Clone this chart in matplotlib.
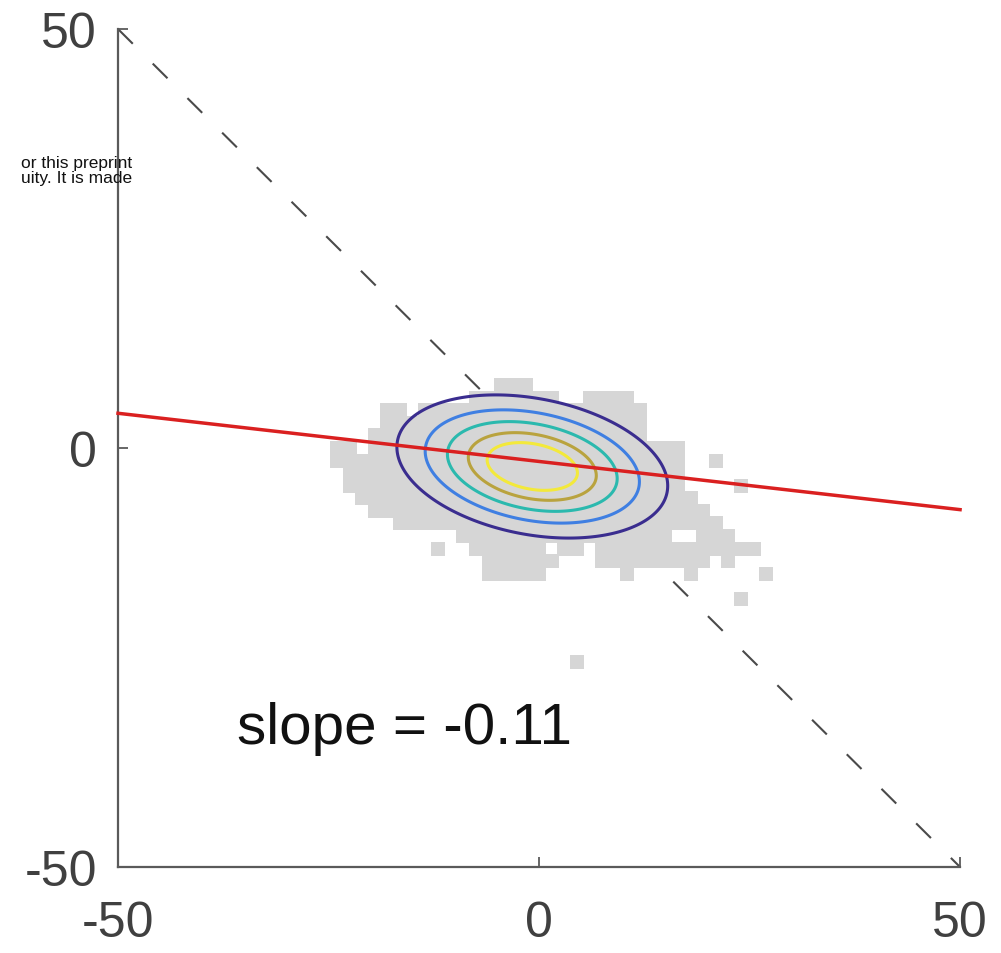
import numpy as np
import matplotlib.pyplot as plt

plt.rcParams['font.family'] = ['Liberation Sans', 'DejaVu Sans']
plt.rcParams['axes.unicode_minus'] = False

# gray point cloud: one y value per row, with the x values found on that row
row_y = [7.5, 6, 4.5, 3, 1.5, 0, -1.5, -3, -4.5, -6, -7.5, -9, -10.5, -12, -13.5, -15, -18, -25.5]
row_x = [
    [-4.5, -3, -1.5],
    [-7.5, -6, -4.5, -3, -1.5, 0, 1.5, 6, 7.5, 9, 10.5],
    [-18, -16.5, -13.5, -12, -10.5, -9, -7.5, -6, -4.5, -3, -1.5, 0, 1.5, 3, 4.5, 6, 7.5, 9, 10.5, 12],
    [-18, -16.5, -15, -13.5, -12, -10.5, -9, -7.5, -6, -4.5, -3, -1.5, 0, 1.5, 3, 4.5, 6, 7.5, 9, 10.5, 12],
    [-19.5, -18, -16.5, -15, -13.5, -12, -10.5, -9, -7.5, -6, -4.5, -3, -1.5, 0, 1.5, 3, 4.5, 6, 7.5, 9,
     10.5, 12],
    [-24, -22.5, -19.5, -18, -16.5, -15, -13.5, -12, -10.5, -9, -7.5, -6, -4.5, -3, -1.5, 0, 1.5, 3, 4.5,
     6, 7.5, 9, 10.5, 12, 13.5, 15, 16.5],
    [-24, -22.5, -21, -19.5, -18, -16.5, -15, -13.5, -12, -10.5, -9, -7.5, -6, -4.5, -3, -1.5, 0, 1.5, 3,
     4.5, 6, 7.5, 9, 10.5, 12, 13.5, 15, 16.5, 21],
    [-22.5, -21, -19.5, -18, -16.5, -15, -13.5, -12, -10.5, -9, -7.5, -6, -4.5, -3, -1.5, 0, 1.5, 3, 4.5,
     6, 7.5, 9, 10.5, 12, 13.5, 15, 16.5],
    [-22.5, -21, -19.5, -18, -16.5, -15, -13.5, -12, -10.5, -9, -7.5, -6, -4.5, -3, -1.5, 0, 1.5, 3, 4.5,
     6, 7.5, 9, 10.5, 12, 13.5, 15, 16.5, 24],
    [-21, -19.5, -18, -16.5, -15, -13.5, -12, -10.5, -9, -7.5, -6, -4.5, -3, -1.5, 0, 1.5, 3, 4.5, 6, 7.5,
     9, 10.5, 12, 13.5, 15, 16.5, 18],
    [-19.5, -18, -16.5, -15, -13.5, -12, -10.5, -9, -7.5, -6, -4.5, -3, -1.5, 0, 1.5, 3, 4.5, 6, 7.5, 9,
     10.5, 12, 13.5, 15, 16.5, 18, 19.5],
    [-16.5, -15, -13.5, -12, -10.5, -9, -7.5, -6, -4.5, -3, -1.5, 0, 1.5, 3, 4.5, 6, 7.5, 9, 10.5, 12,
     13.5, 15, 16.5, 18, 19.5, 21],
    [-9, -7.5, -6, -4.5, -3, -1.5, 0, 1.5, 3, 4.5, 6, 7.5, 9, 10.5, 12, 13.5, 15, 19.5, 21, 22.5],
    [-12, -7.5, -6, -4.5, -3, -1.5, 0, 3, 4.5, 7.5, 9, 10.5, 12, 13.5, 15, 16.5, 18, 19.5, 21, 22.5, 24,
     25.5],
    [-6, -4.5, -3, -1.5, 0, 1.5, 7.5, 9, 10.5, 12, 13.5, 15, 16.5, 18, 19.5, 22.5],
    [-6, -4.5, -3, -1.5, 0, 10.5, 18, 27],
    [24],
    [4.5],
]

# fitted gaussian (mean, spread, correlation) and the contour radii
gauss_mean = (-0.8, -2.2)
gauss_sd = (8.0, 4.25)
gauss_rho = -0.27
contour_radii = [0.67, 0.95, 1.26, 1.59, 2.01]
contour_colors = ['#F3E93A', '#B9A33E', '#2BB9AE', '#3F7FE2', '#3A2D8F']

# regression line
fit_slope = -0.115
fit_intercept = -1.6
fit_x = [-50, 50]

# reference diagonal
diag_x = [-50, 50]
diag_y = [50, -50]

ticks = [-50, 0, 50]


def main():
    fig = plt.figure(figsize=(10.01, 9.54), dpi=100)
    ax = fig.add_axes([0.1179, 0.0901, 0.8412, 0.8784])

    # watermark fragment cut at the left border
    fig.text(132 / 1001, 1 - 171 / 954, 'or this preprint\nuity. It is made', ha='right', va='center',
             multialignment='right', fontsize=12.5, linespacing=0.92, color='#111111')

    # dashed diagonal, under the cloud
    ax.plot(diag_x, diag_y, color='#4A4A4A', lw=1.5, dashes=(10, 13.5), clip_on=False, zorder=0.5)

    # gray cloud
    px = [x for xs, y in zip(row_x, row_y) for x in xs]
    py = [y for xs, y in zip(row_x, row_y) for x in xs]
    ax.scatter(px, py, s=92, marker='s', color='#D6D6D6', linewidths=0, zorder=1)

    # gaussian contours
    gx, gy = np.meshgrid(np.linspace(-30, 30, 481), np.linspace(-25, 20, 361))
    zx = (gx - gauss_mean[0]) / gauss_sd[0]
    zy = (gy - gauss_mean[1]) / gauss_sd[1]
    d2 = (zx ** 2 - 2 * gauss_rho * zx * zy + zy ** 2) / (1 - gauss_rho ** 2)
    ax.contour(gx, gy, d2, levels=[r ** 2 for r in contour_radii], colors=contour_colors,
               linewidths=2.2, zorder=3)

    # fitted line
    fit_y = [fit_intercept + fit_slope * x for x in fit_x]
    ax.plot(fit_x, fit_y, color='#DA2020', lw=2.5, zorder=4, clip_on=False)

    ax.text(-35.9, -35.2, 'slope = -0.11', fontsize=42, color='#111111', ha='left', va='baseline')

    ax.set_xlim(-50, 50)
    ax.set_ylim(-50, 50)
    ax.set_xticks(ticks)
    ax.set_yticks(ticks)
    ax.set_xticklabels([str(t) for t in ticks])
    ax.set_yticklabels([str(t) for t in ticks])
    ax.spines['top'].set_visible(False)
    ax.spines['right'].set_visible(False)
    for s in ['left', 'bottom']:
        ax.spines[s].set_color('#5A5A5A')
        ax.spines[s].set_linewidth(1.6)
    ax.tick_params(direction='in', length=7, width=1.3, color='#5A5A5A',
                   labelsize=36, labelcolor='#404040')
    ax.tick_params(axis='x', pad=24)
    ax.tick_params(axis='y', pad=15)

    fig.savefig('out.png', dpi=100)


if __name__ == '__main__':
    main()
